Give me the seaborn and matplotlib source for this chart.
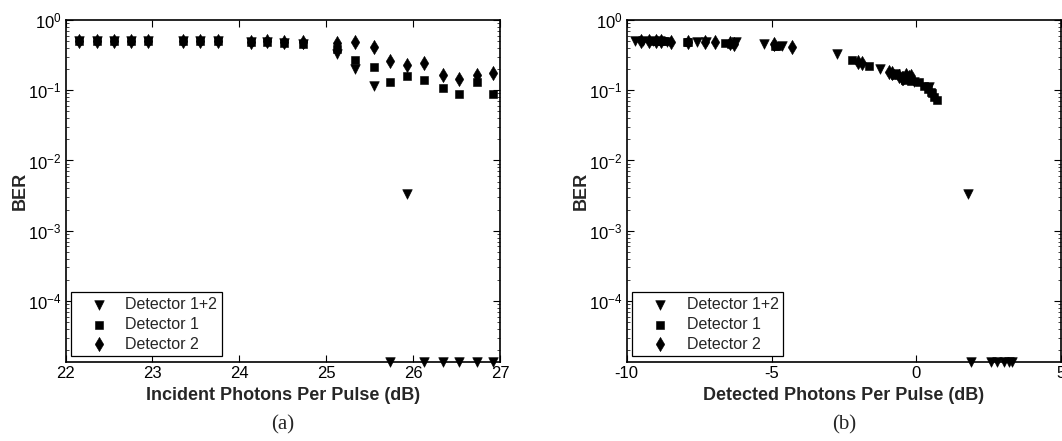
import numpy as np
import pandas as pd
import matplotlib
matplotlib.use("Agg")
import matplotlib.pyplot as plt
import seaborn as sns
from matplotlib.ticker import LogLocator, NullFormatter

sns.set_style("ticks")
plt.rcParams['font.family'] = ['Liberation Sans', 'DejaVu Sans']
plt.rcParams['mathtext.fontset'] = 'custom'
plt.rcParams['mathtext.rm'] = 'Liberation Sans'

FLOOR = 1.35e-5  # BER = 0 drawn on the bottom axis

series_names = ["Detector 1+2", "Detector 1", "Detector 2"]

# (a) Incident photons per pulse (dB)
a_x = [22.15, 22.36, 22.56, 22.75, 22.95, 23.35, 23.55, 23.75, 24.14, 24.32, 24.51,
       24.73, 25.12, 25.33, 25.55, 25.73, 25.93, 26.12, 26.34, 26.53, 26.73, 26.92]
a_d12 = [0.50, 0.50, 0.50, 0.50, 0.50, 0.50, 0.50, 0.50, 0.49, 0.49, 0.47,
         0.46, 0.33, 0.204, 0.114, FLOOR, 3.3e-3, FLOOR, FLOOR, FLOOR, FLOOR, FLOOR]
a_d1 = [0.50, 0.50, 0.50, 0.50, 0.50, 0.50, 0.50, 0.50, 0.49, 0.49, 0.47,
        0.46, 0.39, 0.268, 0.215, 0.131, 0.159, 0.139, 0.109, 0.089, 0.131, 0.089]
a_d2 = [0.50, 0.50, 0.50, 0.50, 0.50, 0.50, 0.50, 0.50, 0.49, 0.50, 0.48,
        0.48, 0.465, 0.48, 0.41, 0.26, 0.227, 0.245, 0.164, 0.147, 0.164, 0.177]

# (b) Detected photons per pulse (dB)
b_x12 = [-9.71, -9.43, -9.1, -8.85, -8.6, -7.56, -7.26, -6.22, -5.25, -4.64, -2.74,
         -1.27, -0.75, -0.1, 0.45, 1.87, 1.79, 2.56, 2.79, 3.02, 3.19, 3.31]
b_d12 = [0.50, 0.50, 0.50, 0.50, 0.49, 0.49, 0.48, 0.48, 0.45, 0.42, 0.33,
         0.20, 0.17, 0.13, 0.11, FLOOR, 3.3e-3, FLOOR, FLOOR, FLOOR, FLOOR, FLOOR]
b_x1 = [-9.02, -8.95, -8.79, -8.7, -7.93, -7.9, -6.6, -6.41, -4.87, -4.8, -2.22,
        -1.65, -0.75, -0.4, -0.2, 0.1, 0.25, 0.4, 0.5, 0.55, 0.62, 0.72]
b_d1 = [0.50, 0.50, 0.50, 0.50, 0.49, 0.49, 0.47, 0.46, 0.43, 0.42, 0.27,
        0.22, 0.165, 0.14, 0.135, 0.13, 0.115, 0.105, 0.095, 0.09, 0.08, 0.072]
b_x2 = [-9.5, -9.22, -9.0, -8.8, -8.48, -7.9, -7.3, -6.95, -6.45, -6.3, -4.9,
        -4.30, -2.0, -1.88, -0.95, -0.85, -0.6, -0.5, -0.35, -0.27, -0.45, -0.2]
b_d2 = [0.50, 0.50, 0.50, 0.50, 0.49, 0.49, 0.48, 0.48, 0.47, 0.46, 0.45,
        0.41, 0.25, 0.245, 0.18, 0.175, 0.16, 0.15, 0.165, 0.155, 0.148, 0.16]

a_xticks = [22, 23, 24, 25, 26, 27]
b_xticks = [-10, -5, 0, 5]

markers = {"Detector 1+2": "v", "Detector 1": "s", "Detector 2": "d"}
sizes = {"Detector 1+2": 48, "Detector 1": 38, "Detector 2": 52}

fig = plt.figure(figsize=(10.62, 4.41), dpi=100)
ax_a = fig.add_axes([0.0617, 0.1791, 0.4091, 0.7755])
ax_b = fig.add_axes([0.5901, 0.1791, 0.4092, 0.7755])


def draw(ax, xs, ys, xlim, xticks, xlabel, sub):
    for name, x, y in zip(series_names, xs, ys):
        df = pd.DataFrame({"x": x, "BER": y})
        sns.scatterplot(data=df, x="x", y="BER", ax=ax, marker=markers[name],
                        color="black", edgecolor="black", linewidth=0.4,
                        s=sizes[name], label=name, clip_on=False, zorder=3)
    ax.set_yscale("log")
    ax.set_ylim(FLOOR, 1.0)
    ax.set_xlim(*xlim)
    ax.set_xticks(xticks)
    ax.set_xticklabels([str(t) for t in xticks])
    ax.set_yticks([1e-4, 1e-3, 1e-2, 1e-1, 1e0])
    ax.yaxis.set_minor_locator(LogLocator(base=10, subs=np.arange(2, 10), numticks=20))
    ax.yaxis.set_minor_formatter(NullFormatter())
    ax.tick_params(axis="both", which="major", direction="in", length=5, width=0.8,
                   top=True, right=True, labelsize=12, colors="black", pad=3)
    ax.tick_params(axis="y", which="minor", direction="in", length=2.5, width=0.6,
                   left=True, right=True)
    for sp in ax.spines.values():
        sp.set_visible(True)
        sp.set_color("black")
        sp.set_linewidth(1.2)
    ax.set_xlabel(xlabel, fontsize=13, fontweight="bold", va="center")
    ax.xaxis.set_label_coords(0.5, -0.099)
    ax.set_ylabel("BER", fontsize=13, fontweight="bold", va="center")
    ax.yaxis.set_label_coords(-0.105, 0.5)
    leg = ax.legend(loc="lower left", fancybox=False, edgecolor="black",
                    framealpha=1, fontsize=11.5, borderaxespad=0.35,
                    handletextpad=0.2, borderpad=0.3, labelspacing=0.3,
                    handlelength=2.9)
    leg.get_frame().set_linewidth(0.9)
    ax.text(0.5, -0.184, sub, transform=ax.transAxes, ha="center", va="center",
            fontsize=15, family=["Liberation Serif", "DejaVu Serif"])


draw(ax_a, [a_x, a_x, a_x], [a_d12, a_d1, a_d2], (22, 27), a_xticks,
     "Incident Photons Per Pulse (dB)", "(a)")
draw(ax_b, [b_x12, b_x1, b_x2], [b_d12, b_d1, b_d2], (-10, 5), b_xticks,
     "Detected Photons Per Pulse (dB)", "(b)")

fig.savefig("out.png", dpi=100)
